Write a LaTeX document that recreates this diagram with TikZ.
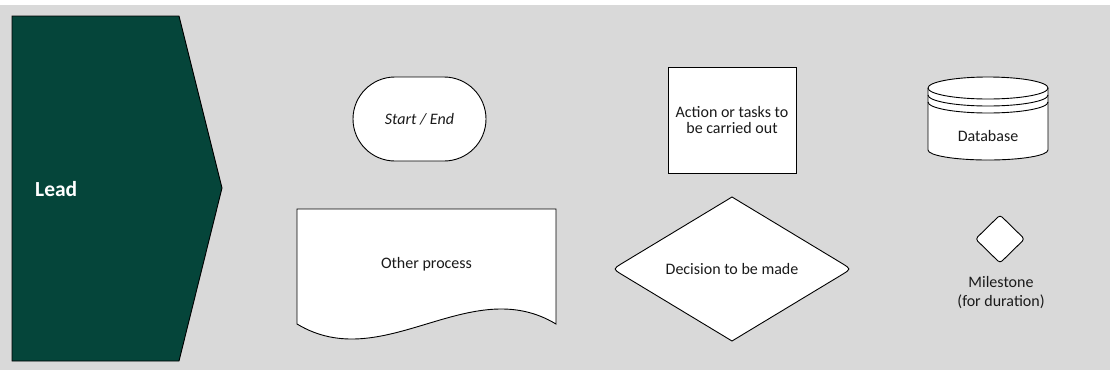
\documentclass[tikz,border=0pt]{standalone}
\usepackage{fontspec}
\setmainfont{Carlito}
\definecolor{bggray}{HTML}{D9D9D9}
\definecolor{leadgreen}{HTML}{05453A}
\definecolor{inkgray}{HTML}{1A1A1A}
\begin{document}
\begin{tikzpicture}[x=1pt,y=-1pt,
  outline/.style={draw=black, fill=white, line width=0.9pt},
  lbl/.style={font=\fontsize{16}{17}\selectfont, text=inkgray, align=center, inner sep=0pt},
]
\useasboundingbox (0,0) rectangle (1110,370);
\fill[white] (0,0) rectangle (1110,370);
\fill[bggray] (0,5) rectangle (1110,370);

% lead chevron
\draw[fill=leadgreen, draw=black, line width=0.9pt]
  (12,16) -- (179,16) -- (222,188) -- (179,361) -- (12,361) -- cycle;
\node[anchor=west, text=white, font=\bfseries\fontsize{21.5}{25}\selectfont, inner sep=0pt]
  (lead) at (35,189) {Lead};

% terminator
\node[outline, lbl, minimum width=133pt, minimum height=84pt, rounded corners=42pt,
  font=\itshape\fontsize{16}{17}\selectfont] (term) at (419.5,119) {Start / End};

% action box
\node[outline, lbl, minimum width=128pt, minimum height=106pt] (action) at (732,120)
  {Action or tasks to\\be carried out};

% database cylinder
\draw[outline] (928,88) -- (928,150)
  arc[start angle=180, end angle=0, x radius=60, y radius=10] -- (1048,88)
  arc[start angle=0, end angle=-180, x radius=60, y radius=11] -- cycle;
\draw[line width=0.9pt] (928,88) arc[start angle=180, end angle=0, x radius=60, y radius=11];
\draw[line width=0.9pt] (928,95) arc[start angle=180, end angle=0, x radius=60, y radius=11];
\draw[line width=0.9pt] (928,102) arc[start angle=180, end angle=0, x radius=60, y radius=11];
\node[lbl] (db) at (988,136) {Database};

% document shape
\draw[outline] (297,209) -- (556,209) -- (556,324)
  .. controls (469.7,272) and (383.3,376) .. (297,324) -- cycle;
\node[lbl] (doc) at (426.5,264) {Other process};

% decision diamond with rounded side corners
\draw[outline] (732,197) -- (842.5,263.7) .. controls (851,269) .. (842.5,274.3)
  -- (732,341) -- (621.5,274.3) .. controls (613,269) .. (621.5,263.7) -- cycle;
\node[lbl] (dec) at (732,269) {Decision to be made};

% milestone
\draw[outline, rounded corners=3pt] (1000,215) -- (1024.5,239) -- (1000,263) -- (975.5,239) -- cycle;
\node[lbl, font=\fontsize{16}{19}\selectfont] (ms) at (1001,293) {Milestone\\(for duration)};
\end{tikzpicture}
\end{document}
